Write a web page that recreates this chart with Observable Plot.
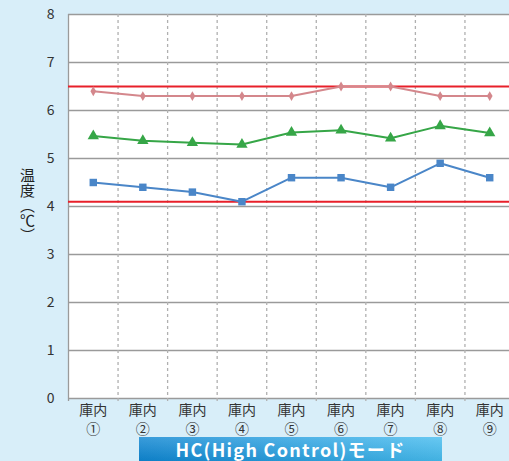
<!DOCTYPE html>
<html>
<head>
<meta charset="utf-8">
<script src="https://cdn.jsdelivr.net/npm/d3@7"></script>
<script src="https://cdn.jsdelivr.net/npm/@observablehq/plot@0.6"></script>
<style>
  html, body { margin: 0; padding: 0; background: #d8eef9; width: 509px; height: 461px; overflow: hidden; }
  body { font-family: "Noto Sans CJK JP", "Noto Sans", sans-serif; position: relative; }
  #chart svg { display: block; overflow: visible; }
  #ytitle {
    position: absolute; left: 20px; top: 168px;
    writing-mode: vertical-rl; text-orientation: mixed; white-space: nowrap;
    font-size: 15px; line-height: 1; color: #222; font-family: "Noto Sans CJK JP", sans-serif;
  }
  #banner {
    position: absolute; left: 139px; top: 437px; width: 303px; height: 24px;
    background: linear-gradient(to bottom, rgba(255,255,255,0.18), rgba(0,0,0,0.06)),
                linear-gradient(to right, #0e86d2, #46bcef);
    color: white; font-weight: bold; font-size: 18px; line-height: 24px; letter-spacing: 1.3px;
    text-align: center; font-family: "Noto Sans CJK JP", sans-serif;
  }
</style>
</head>
<body>
<div id="chart"></div>
<div id="ytitle"></div>
<div id="banner"></div>
<script>
const categories = ["庫内\n①","庫内\n②","庫内\n③","庫内\n④","庫内\n⑤","庫内\n⑥","庫内\n⑦","庫内\n⑧","庫内\n⑨"];
const pinkValues  = [6.4, 6.3, 6.3, 6.3, 6.3, 6.5, 6.5, 6.3, 6.3];
const greenValues = [5.47, 5.37, 5.33, 5.29, 5.54, 5.59, 5.42, 5.68, 5.53];
const blueValues  = [4.5, 4.4, 4.3, 4.1, 4.6, 4.6, 4.4, 4.9, 4.6];
const limitLines = [6.5, 4.1];
const yTicks = [0, 1, 2, 3, 4, 5, 6, 7, 8];
const yTitle = "温度（℃）";
const bannerText = "HC(High Control)モード";

const idx = categories.map((_, i) => i + 1);
const boundaries = idx.slice(1).map(i => i - 0.5);
const toRows = vals => vals.map((v, i) => ({x: i + 1, y: v}));
const pink = toRows(pinkValues), green = toRows(greenValues), blue = toRows(blueValues);

const chart = Plot.plot({
  width: 509,
  height: 437,
  marginLeft: 68,
  marginRight: 0,
  marginTop: 14,
  marginBottom: 39,
  style: {background: "transparent", fontFamily: "'Noto Sans CJK JP', sans-serif", color: "#333", overflow: "visible"},
  x: {domain: [0.5, 9.5], range: [68, 514], axis: null},
  y: {domain: [0, 8], axis: null},
  marks: [
    Plot.frame({fill: "white", stroke: null}),
    Plot.ruleY(yTicks, {stroke: "#9a9a9a", strokeWidth: 1.3}),
    Plot.ruleX(boundaries, {stroke: "#b0b0b0", strokeWidth: 1.3, strokeDasharray: "3,3", insetBottom: -4}),
    Plot.ruleX([0.5], {stroke: "#9a9a9a", strokeWidth: 1.3, insetBottom: -3}),
    Plot.ruleY(limitLines, {stroke: "#e8202a", strokeWidth: 2}),
    Plot.line(pink, {x: "x", y: "y", stroke: "#d4878c", strokeWidth: 2}),
    Plot.dot(pink, {x: "x", y: "y", fill: "#d4878c", symbol: "diamond", r: 3}),
    Plot.line(green, {x: "x", y: "y", stroke: "#36a647", strokeWidth: 2}),
    Plot.dot(green, {x: "x", y: "y", fill: "#36a647", symbol: "triangle", r: 4.2}),
    Plot.line(blue, {x: "x", y: "y", stroke: "#4a86c8", strokeWidth: 2}),
    Plot.dot(blue, {x: "x", y: "y", fill: "#4a86c8", symbol: "square", r: 4.2}),
    Plot.axisY(yTicks, {tickSize: 0, tickPadding: 14, fontSize: 14, fill: "#333", label: null}),
    Plot.axisX(idx, {tickSize: 0, tickPadding: 4, fontSize: 14, fill: "#333", label: null, lineHeight: 1.3,
      tickFormat: d => categories[d - 1]})
  ]
});
document.getElementById("chart").appendChild(chart);
document.getElementById("ytitle").textContent = yTitle;
document.getElementById("banner").textContent = bannerText;
</script>
</body>
</html>
